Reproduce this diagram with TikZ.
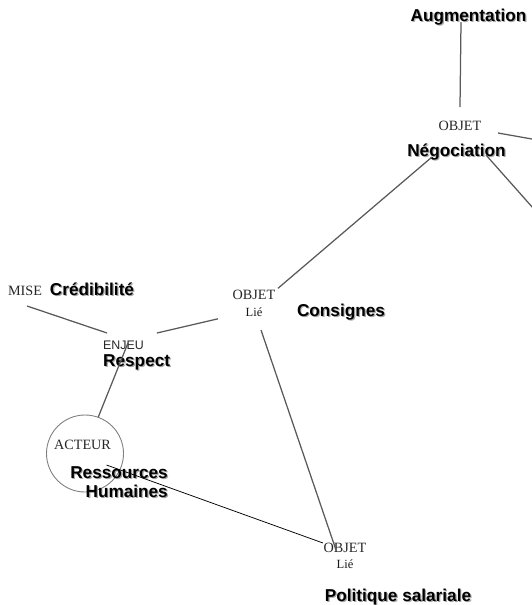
\documentclass[tikz,border=0pt]{standalone}
\usepackage{fontspec}
\setmainfont{Liberation Serif}
\newfontfamily\arialfont{Liberation Sans}
\usetikzlibrary{calc}
% bold label with a soft grey drop shadow
\newcommand\shd[1]{\leavevmode\rlap{\kern1.2pt\raisebox{-1.2pt}{\textcolor{black!35}{#1}}}#1}
\tikzset{
  lbl/.style={anchor=base, inner sep=0pt, font=\arialfont\bfseries\fontsize{17.2}{20}\selectfont},
  kind/.style={anchor=base, inner sep=0pt, text=black!85, font=\fontsize{14.2}{16}\selectfont},
  liekind/.style={anchor=base, inner sep=0pt, text=black!90, font=\fontsize{12.5}{14}\selectfont},
  enjkind/.style={anchor=base, inner sep=0pt, text=black!85, font=\arialfont\fontsize{12.4}{14}\selectfont},
  link/.style={draw=black!65, line width=1.25pt},
  thinlink/.style={draw=black, line width=0.75pt},
  actor/.style={circle, draw=black!50, line width=0.9pt, minimum size=77pt, inner sep=0pt}
}
\begin{document}
\begin{tikzpicture}[x=1pt, y=-1pt]
\useasboundingbox (0,0) rectangle (532,605);

% labels
\node[lbl]  (aug)  at (468.5,21.7) {\shd{Augmentation}};
\node[kind] (obj1) at (460,130)    {OBJET};
\node[lbl]  (neg)  at (456.5,156.5){\shd{Négociation}};

\node[kind]    (objl) at (254,299.3) {OBJET};
\node[liekind] (liel) at (254,316)   {Lié};
\node[lbl]     (cons) at (341,316.5) {\shd{Consignes}};

\node[kind] (mise) at (25,295) {MISE};
\node[lbl]  (cred) at (92,295) {\shd{Crédibilité}};

\node[enjkind] (enjeu) at (123.5,349.3) {ENJEU};
\node[lbl, anchor=base west] (resp) at (103,366) {\shd{Respect}};

\node[actor] (acteurc) at (85,453.5) {};
\node[kind]  (acteur)  at (82.5,449) {ACTEUR};
\node[lbl, anchor=base east] (res) at (168,478) {\shd{Ressources}};
\node[lbl, anchor=base east] (hum) at (168,497) {\shd{Humaines}};

\node[kind]    (obj3) at (345,552) {OBJET};
\node[liekind] (lie3) at (345,568) {Lié};
\node[lbl]     (pol)  at (398,601) {\shd{Politique salariale}};

% loose ends leaving the frame on the right
\coordinate (e1) at (533,139.2);
\coordinate (e2) at (533,208);

% connectors
\draw[link] ($(aug.base)+(-7.5,0.5)$) -- ($(obj1.base)+(0,-23)$);
\draw[link] ($(obj1.base)+(38,3)$) -- (e1);
\draw[link] ($(neg.base)+(29.5,-1.5)$) -- (e2);
\draw[link] ($(neg.base)+(-24.5,0.5)$) -- ($(objl.base)+(24,-11)$);
\draw[link] ($(mise.base)+(2,11)$) -- ($(enjeu.base)+(-16.5,-16.3)$);
\draw[link] ($(enjeu.base)+(33.5,-16.3)$) -- ($(objl.base)+(-36,19.5)$);
\draw[link] ($(enjeu.base)+(4.5,-6.3)$) -- (acteurc.70);
\draw[link] ($(objl.base)+(7,30.7)$) -- ($(obj3.base)+(-9,-2)$);
\draw[thinlink] ($(res.base)+(-12.5,-13)$) -- ($(obj3.base)+(-22,-9)$);
\end{tikzpicture}
\end{document}
